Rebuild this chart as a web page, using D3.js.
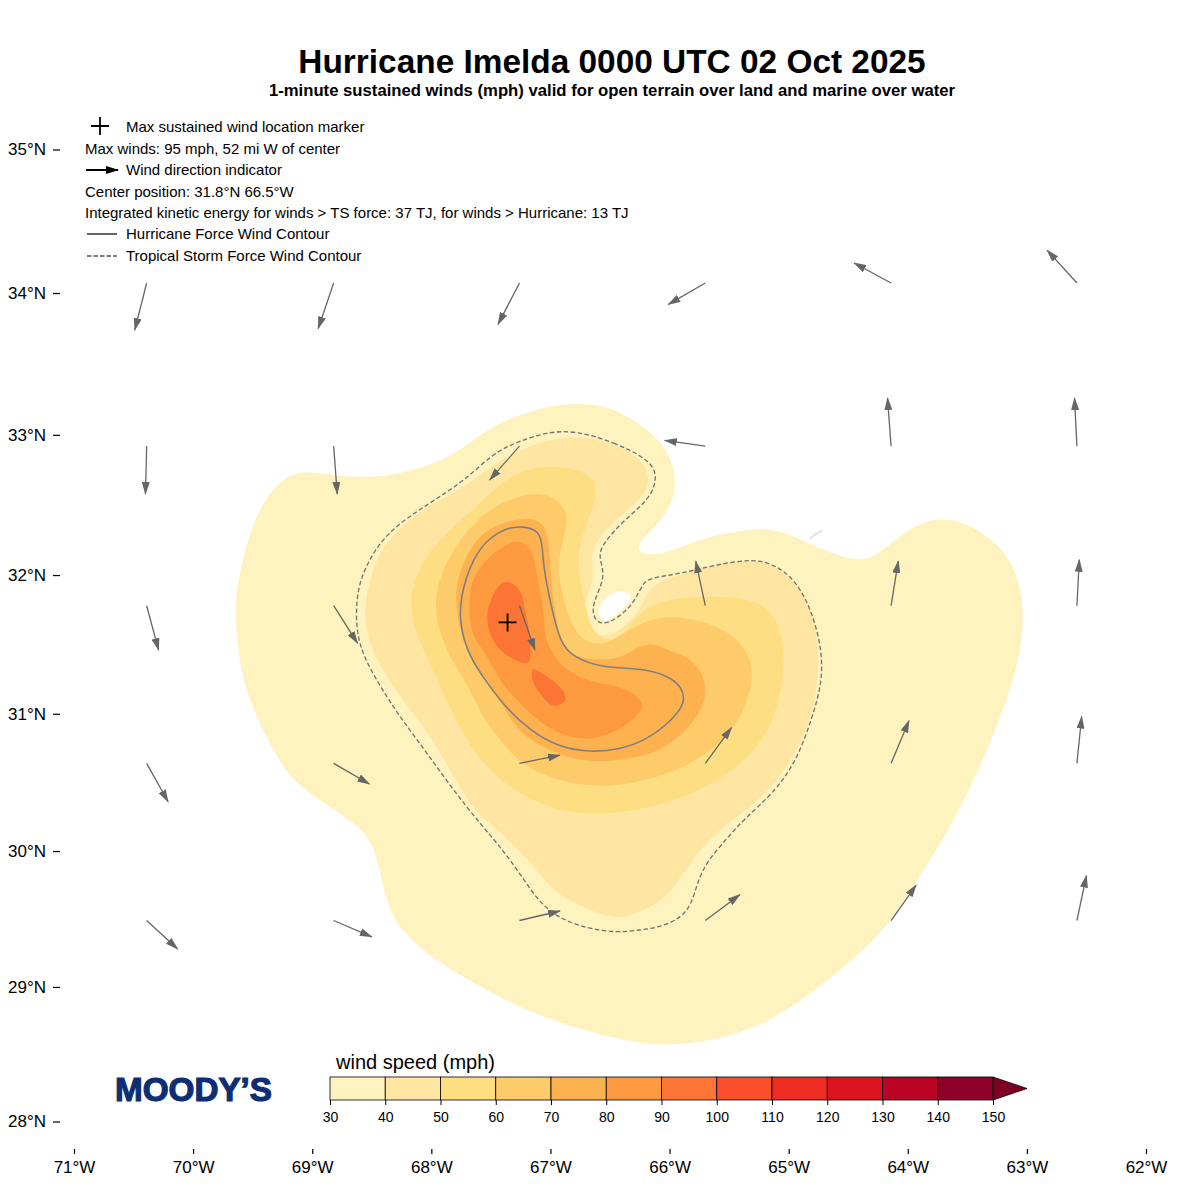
<!DOCTYPE html>
<html>
<head>
<meta charset="utf-8">
<script src="https://cdn.jsdelivr.net/npm/d3@7"></script>
<style>
  html, body { margin: 0; padding: 0; background: #fff; }
  text { font-family: "Liberation Sans", Arial, sans-serif; fill: #000; }
</style>
</head>
<body>
<svg id="chart" width="1200" height="1200"></svg>
<script>
const lonTicks = [-71, -70, -69, -68, -67, -66, -65, -64, -63, -62];
const latTicks = [28, 29, 30, 31, 32, 33, 34, 35];
const levels = [30, 40, 50, 60, 70, 80, 90, 100, 110, 120, 130, 140, 150];
const levelColors = ['#fef3be', '#fee6a2', '#fede82', '#fecb6a', '#feb14f', '#fd9a40', '#fc7535',
  '#fb4e2b', '#ee2c24', '#dc141f', '#bb0326', '#8f0028'];
const overColor = '#7f0027';

// contours, [lon, lat]
const ring30 = [[-69.09,32.75],[-68.79,32.71],[-68.49,32.69],[-68.07,32.76],[-67.78,32.87],[-67.51,33.06],[-67.09,33.20],[-66.73,33.23],[-66.47,33.19],[-66.25,33.08],[-66.05,32.94],[-65.95,32.75],[-65.95,32.56],[-66.08,32.37],[-66.25,32.25],[-66.27,32.18],[-66.19,32.14],[-66.02,32.16],[-65.83,32.23],[-65.55,32.30],[-65.24,32.34],[-65.03,32.31],[-64.80,32.21],[-64.43,32.09],[-64.26,32.14],[-64.06,32.29],[-63.87,32.38],[-63.70,32.41],[-63.50,32.37],[-63.28,32.25],[-63.12,32.09],[-63.03,31.84],[-63.03,31.55],[-63.12,31.22],[-63.25,30.91],[-63.45,30.50],[-63.69,30.10],[-63.92,29.79],[-64.17,29.44],[-64.46,29.20],[-64.80,28.96],[-65.13,28.76],[-65.49,28.63],[-65.89,28.57],[-66.25,28.57],[-66.81,28.70],[-67.23,28.83],[-67.65,29.03],[-67.99,29.21],[-68.24,29.40],[-68.35,29.57],[-68.41,29.76],[-68.47,30.01],[-68.57,30.15],[-68.77,30.28],[-69.14,30.48],[-69.31,30.70],[-69.51,31.05],[-69.61,31.34],[-69.65,31.70],[-69.63,31.94],[-69.55,32.23],[-69.44,32.49],[-69.27,32.68]];
const eyeHole = [[-66.60,31.73],[-66.56,31.81],[-66.44,31.88],[-66.33,31.86],[-66.35,31.80],[-66.43,31.73],[-66.53,31.67],[-66.58,31.69]];
const ring40 = [[-66.79,33.00],[-66.47,32.94],[-66.25,32.84],[-66.15,32.69],[-66.22,32.56],[-66.39,32.44],[-66.58,32.29],[-66.67,32.14],[-66.63,32.02],[-66.67,31.89],[-66.72,31.78],[-66.73,31.69],[-66.67,31.59],[-66.54,31.55],[-66.37,31.63],[-66.25,31.75],[-66.18,31.89],[-66.08,31.96],[-65.77,32.04],[-65.55,32.09],[-65.30,32.11],[-65.10,32.06],[-64.93,31.94],[-64.80,31.75],[-64.75,31.51],[-64.75,31.22],[-64.82,30.93],[-64.96,30.69],[-65.13,30.47],[-65.35,30.30],[-65.55,30.18],[-65.77,29.99],[-65.94,29.76],[-66.08,29.62],[-66.31,29.53],[-66.44,29.51],[-66.61,29.54],[-66.81,29.62],[-66.98,29.71],[-67.11,29.86],[-67.28,30.02],[-67.48,30.18],[-67.65,30.30],[-67.84,30.59],[-68.04,30.88],[-68.26,31.12],[-68.43,31.34],[-68.53,31.53],[-68.56,31.70],[-68.55,31.84],[-68.49,32.06],[-68.37,32.25],[-68.20,32.39],[-67.99,32.51],[-67.73,32.63],[-67.53,32.75],[-67.34,32.86],[-67.09,32.95]];
const ring50 = [[-66.98,32.79],[-66.69,32.74],[-66.60,32.62],[-66.64,32.48],[-66.78,32.19],[-66.75,31.96],[-66.69,31.70],[-66.62,31.56],[-66.48,31.52],[-66.36,31.60],[-66.22,31.77],[-65.94,31.84],[-65.55,31.85],[-65.27,31.82],[-65.10,31.70],[-65.03,31.46],[-65.05,31.22],[-65.13,30.93],[-65.32,30.69],[-65.58,30.52],[-65.97,30.35],[-66.53,30.26],[-66.81,30.28],[-67.09,30.34],[-67.36,30.47],[-67.57,30.64],[-67.74,30.86],[-67.89,31.12],[-68.01,31.37],[-68.12,31.55],[-68.18,31.77],[-68.16,31.91],[-68.07,32.11],[-67.93,32.25],[-67.76,32.39],[-67.53,32.56],[-67.31,32.74]];
const ring60 = [[-67.17,32.59],[-66.98,32.57],[-66.86,32.46],[-66.86,32.34],[-66.94,32.13],[-66.92,31.91],[-66.84,31.68],[-66.73,31.51],[-66.53,31.50],[-66.39,31.58],[-66.25,31.65],[-66.05,31.71],[-65.74,31.68],[-65.47,31.58],[-65.31,31.41],[-65.30,31.22],[-65.38,31.01],[-65.52,30.83],[-65.77,30.66],[-66.05,30.55],[-66.39,30.48],[-66.64,30.47],[-66.98,30.52],[-67.26,30.64],[-67.42,30.81],[-67.57,30.97],[-67.65,31.14],[-67.82,31.37],[-67.93,31.58],[-67.97,31.75],[-67.95,31.94],[-67.84,32.16],[-67.65,32.37],[-67.45,32.51]];
const ring70 = [[-67.17,32.42],[-67.06,32.37],[-67.01,32.25],[-67.00,31.96],[-66.94,31.60],[-66.86,31.44],[-66.69,31.39],[-66.44,31.39],[-66.31,31.46],[-66.16,31.52],[-66.02,31.46],[-65.83,31.41],[-65.70,31.27],[-65.69,31.10],[-65.80,30.93],[-66.02,30.76],[-66.22,30.69],[-66.50,30.65],[-66.78,30.66],[-67.03,30.74],[-67.26,30.86],[-67.36,31.01],[-67.51,31.19],[-67.65,31.37],[-67.76,31.58],[-67.80,31.82],[-67.78,31.99],[-67.65,32.25],[-67.45,32.37]];
const ring80 = [[-67.28,32.24],[-67.17,32.18],[-67.11,31.99],[-67.06,31.75],[-67.03,31.53],[-66.89,31.34],[-66.67,31.24],[-66.42,31.19],[-66.27,31.12],[-66.23,31.05],[-66.31,30.96],[-66.47,30.87],[-66.69,30.82],[-66.92,30.86],[-67.11,30.96],[-67.26,31.08],[-67.40,31.22],[-67.53,31.41],[-67.65,31.58],[-67.68,31.77],[-67.65,31.96],[-67.51,32.13],[-67.38,32.21]];
const ring90a = [[-67.36,31.95],[-67.26,31.89],[-67.21,31.73],[-67.17,31.53],[-67.19,31.37],[-67.34,31.41],[-67.48,31.53],[-67.53,31.70],[-67.49,31.84],[-67.42,31.93]];
const ring90b = [[-67.15,31.32],[-67.03,31.27],[-66.89,31.16],[-66.88,31.09],[-66.98,31.06],[-67.09,31.15],[-67.15,31.24]];
const hurricaneLine = [[-67.23,32.35],[-67.11,32.32],[-67.07,32.25],[-67.06,32.06],[-67.00,31.80],[-66.92,31.51],[-66.81,31.41],[-66.56,31.33],[-66.25,31.33],[-66.02,31.28],[-65.89,31.19],[-65.87,31.08],[-65.97,30.96],[-66.19,30.81],[-66.42,30.74],[-66.67,30.72],[-66.94,30.76],[-67.17,30.88],[-67.36,31.03],[-67.53,31.22],[-67.68,31.41],[-67.76,31.63],[-67.76,31.84],[-67.65,32.13],[-67.51,32.27],[-67.36,32.34]];
const tsLine = [[-66.79,33.03],[-66.47,32.95],[-66.16,32.82],[-66.10,32.70],[-66.16,32.55],[-66.36,32.41],[-66.56,32.23],[-66.60,32.13],[-66.53,31.99],[-66.65,31.80],[-66.64,31.68],[-66.54,31.63],[-66.31,31.77],[-66.23,31.94],[-66.16,31.98],[-65.91,32.01],[-65.63,32.07],[-65.30,32.12],[-65.10,32.07],[-64.93,31.95],[-64.80,31.73],[-64.72,31.46],[-64.72,31.22],[-64.80,30.98],[-64.93,30.66],[-65.13,30.42],[-65.38,30.23],[-65.52,30.09],[-65.68,29.93],[-65.76,29.79],[-65.81,29.62],[-65.90,29.51],[-66.08,29.44],[-66.25,29.42],[-66.44,29.40],[-66.69,29.43],[-66.94,29.51],[-67.11,29.64],[-67.26,29.84],[-67.42,30.03],[-67.59,30.20],[-67.82,30.45],[-68.04,30.72],[-68.25,30.96],[-68.41,31.17],[-68.57,31.41],[-68.63,31.60],[-68.63,31.80],[-68.60,31.96],[-68.51,32.13],[-68.37,32.30],[-68.15,32.44],[-67.93,32.56],[-67.70,32.69],[-67.48,32.87],[-67.28,32.95],[-67.03,33.02]];
const bermuda = [[-64.82,32.26],[-64.78,32.29],[-64.72,32.32]];
const maxWindPoint = [-67.36, 31.66];

// wind arrows, grid of tails and offsets in degrees, row by row
const windLons = [-70.39, -68.82, -67.26, -65.70, -64.14, -62.58];
const windLats = [34.07, 32.92, 31.78, 30.64, 29.49];
const windU = [
  [-0.10, -0.13, -0.18, -0.31, -0.31, -0.25],
  [-0.01, 0.03, -0.25, -0.34, -0.03, -0.02],
  [0.10, 0.20, 0.13, -0.08, 0.06, 0.02],
  [0.18, 0.30, 0.34, 0.22, 0.15, 0.04],
  [0.26, 0.32, 0.34, 0.29, 0.21, 0.08]
];
const windV = [
  [-0.33, -0.32, -0.29, -0.15, 0.14, 0.23],
  [-0.34, -0.34, -0.24, 0.04, 0.34, 0.34],
  [-0.32, -0.27, -0.32, 0.32, 0.32, 0.33],
  [-0.28, -0.15, 0.06, 0.26, 0.31, 0.34],
  [-0.21, -0.12, 0.07, 0.19, 0.26, 0.33]
];

const legendLines = [
  'Max sustained wind location marker',
  'Max winds: 95 mph, 52 mi W of center',
  'Wind direction indicator',
  'Center position: 31.8°N 66.5°W',
  'Integrated kinetic energy for winds > TS force: 37 TJ, for winds > Hurricane: 13 TJ',
  'Hurricane Force Wind Contour',
  'Tropical Storm Force Wind Contour'
];

const draw = () => {
  const svg = d3.select('#chart');
  const arrowGrey = '#666';

  const merc = lat => Math.log(Math.tan(Math.PI / 4 + lat * Math.PI / 360));
  const xScale = d3.scaleLinear().domain([-71, -62]).range([74, 1146]);
  const yMerc = d3.scaleLinear().domain([merc(28), merc(35)]).range([1121.5, 149.5]);
  const yScale = lat => yMerc(merc(lat));

  const ringPath = d3.line()
    .x(d => xScale(d[0]))
    .y(d => yScale(d[1]))
    .curve(d3.curveBasisClosed);
  // small rings would shrink too much with a basis curve
  const smallRingPath = d3.line()
    .x(d => xScale(d[0]))
    .y(d => yScale(d[1]))
    .curve(d3.curveCatmullRomClosed.alpha(0.5));

  const defs = svg.append('defs');
  const addHead = (id, color) => {
    defs.append('marker')
      .attr('id', id)
      .attr('markerUnits', 'userSpaceOnUse')
      .attr('viewBox', '0 0 13 8')
      .attr('markerWidth', 13)
      .attr('markerHeight', 8)
      .attr('refX', 12)
      .attr('refY', 4)
      .attr('orient', 'auto')
      .append('path')
      .attr('d', 'M0,0 L13,4 L0,8 Z')
      .attr('fill', color);
  };
  addHead('head', arrowGrey);
  addHead('legend-head', '#000');

  svg.selectAll('.land')
    .data([bermuda])
    .enter().append('path')
    .attr('class', 'land')
    .attr('d', d3.line().x(d => xScale(d[0])).y(d => yScale(d[1])))
    .attr('fill', 'none')
    .attr('stroke', '#e6e6ec')
    .attr('stroke-width', 2.5);

  // filled wind bands, lowest first
  const bands = [
    { d: ringPath(ring30) + ' ' + smallRingPath(eyeHole), color: levelColors[0] },
    { d: ringPath(ring40), color: levelColors[1] },
    { d: ringPath(ring50), color: levelColors[2] },
    { d: ringPath(ring60), color: levelColors[3] },
    { d: ringPath(ring70), color: levelColors[4] },
    { d: smallRingPath(ring80), color: levelColors[5] },
    { d: smallRingPath(ring90a) + ' ' + smallRingPath(ring90b), color: levelColors[6] }
  ];

  svg.selectAll('.band')
    .data(bands)
    .enter().append('path')
    .attr('class', 'band')
    .attr('d', d => d.d)
    .attr('fill', d => d.color)
    .attr('fill-rule', 'evenodd');

  svg.append('path')
    .attr('d', ringPath(tsLine))
    .attr('fill', 'none')
    .attr('stroke', '#707070')
    .attr('stroke-width', 1.3)
    .attr('stroke-dasharray', '4.5,2.5');

  svg.append('path')
    .attr('d', ringPath(hurricaneLine))
    .attr('fill', 'none')
    .attr('stroke', '#7f7f7f')
    .attr('stroke-width', 1.6);

  const crossAt = (cx, cy) => {
    svg.append('path')
      .attr('d', `M${cx - 9},${cy} H${cx + 9} M${cx},${cy - 9} V${cy + 9}`)
      .attr('stroke', '#000')
      .attr('stroke-width', 1.8)
      .attr('fill', 'none');
  };
  crossAt(xScale(maxWindPoint[0]), yScale(maxWindPoint[1]));

  const arrows = [];
  windLats.forEach((lat, i) => {
    windLons.forEach((lon, j) => {
      arrows.push({ lon, lat, u: windU[i][j], v: windV[i][j] });
    });
  });

  svg.selectAll('.wind')
    .data(arrows)
    .enter().append('line')
    .attr('class', 'wind')
    .attr('x1', d => xScale(d.lon))
    .attr('y1', d => yScale(d.lat))
    .attr('x2', d => xScale(d.lon + d.u))
    .attr('y2', d => yScale(d.lat + d.v))
    .attr('stroke', arrowGrey)
    .attr('stroke-width', 1.3)
    .attr('marker-end', 'url(#head)');

  // titles
  svg.append('text')
    .attr('x', 612).attr('y', 72.5)
    .attr('text-anchor', 'middle')
    .attr('font-size', 33.4)
    .attr('font-weight', 'bold')
    .text('Hurricane Imelda 0000 UTC 02 Oct 2025');

  svg.append('text')
    .attr('x', 612).attr('y', 96)
    .attr('text-anchor', 'middle')
    .attr('font-size', 16.7)
    .attr('font-weight', 'bold')
    .text('1-minute sustained winds (mph) valid for open terrain over land and marine over water');

  // legend
  const legendX = [126, 85, 126, 85, 85, 126, 126];
  const legendY = [132, 154, 175, 197, 218, 239, 261];
  svg.selectAll('.legend-text')
    .data(legendLines)
    .enter().append('text')
    .attr('class', 'legend-text')
    .attr('x', (d, i) => legendX[i])
    .attr('y', (d, i) => legendY[i])
    .attr('font-size', 15)
    .text(d => d);

  crossAt(100, 126);

  svg.append('line')
    .attr('x1', 86).attr('x2', 118).attr('y1', 170).attr('y2', 170)
    .attr('stroke', '#000').attr('stroke-width', 2)
    .attr('marker-end', 'url(#legend-head)');
  svg.append('line')
    .attr('x1', 87).attr('x2', 117).attr('y1', 234).attr('y2', 234)
    .attr('stroke', '#000').attr('stroke-width', 1.2);
  svg.append('line')
    .attr('x1', 87).attr('x2', 117).attr('y1', 256).attr('y2', 256)
    .attr('stroke', '#000').attr('stroke-width', 1.2)
    .attr('stroke-dasharray', '4.5,2');

  // axes
  const xAxis = d3.axisBottom(xScale)
    .tickValues(lonTicks)
    .tickSize(5)
    .tickPadding(7)
    .tickFormat(d => `${Math.abs(d)}°W`);
  const xG = svg.append('g').attr('transform', 'translate(0,1149)').call(xAxis);

  const yAxis = d3.axisLeft(yMerc)
    .tickValues(latTicks.map(merc))
    .tickSize(7)
    .tickPadding(7)
    .tickFormat(d => `${Math.round(2 * Math.atan(Math.exp(d)) * 180 / Math.PI - 90)}°N`);
  const yG = svg.append('g').attr('transform', 'translate(60,0)').call(yAxis);

  [xG, yG].forEach(g => {
    g.select('.domain').remove();
    g.selectAll('.tick line').attr('stroke', '#000').attr('stroke-width', 1.2);
    g.selectAll('.tick text')
      .attr('font-size', 17)
      .style('font-family', '"Liberation Sans", Arial, sans-serif');
  });

  // colour bar
  const barTop = 1077, barBottom = 1100;
  const barScale = d3.scaleLinear().domain([30, 150]).range([330, 993]);

  svg.selectAll('.bin')
    .data(levelColors)
    .enter().append('rect')
    .attr('class', 'bin')
    .attr('x', (d, i) => barScale(levels[i]))
    .attr('y', barTop)
    .attr('width', (d, i) => barScale(levels[i + 1]) - barScale(levels[i]))
    .attr('height', barBottom - barTop)
    .attr('fill', d => d)
    .attr('stroke', '#000')
    .attr('stroke-width', 0.8);

  const tipX = barScale(150) + 34;
  svg.append('path')
    .attr('d', `M${barScale(150)},${barTop} L${tipX},${(barTop + barBottom) / 2} L${barScale(150)},${barBottom} Z`)
    .attr('fill', overColor)
    .attr('stroke', '#000')
    .attr('stroke-width', 0.8);

  const barAxis = d3.axisBottom(barScale)
    .tickValues(levels)
    .tickSize(5)
    .tickPadding(7)
    .tickFormat(d3.format('d'));
  const barG = svg.append('g').attr('transform', `translate(0,${barBottom})`).call(barAxis);
  barG.select('.domain').remove();
  barG.selectAll('.tick line').attr('stroke', '#000').attr('stroke-width', 1);
  barG.selectAll('.tick text')
    .attr('font-size', 14)
    .style('font-family', '"Liberation Sans", Arial, sans-serif');

  svg.append('text')
    .attr('x', 336).attr('y', 1068.5)
    .attr('font-size', 20)
    .text('wind speed (mph)');

  svg.append('text')
    .attr('x', 115).attr('y', 1101)
    .attr('font-size', 33)
    .attr('font-weight', 'bold')
    .attr('textLength', 157)
    .attr('lengthAdjust', 'spacingAndGlyphs')
    .style('fill', '#0d2e73')
    .attr('stroke', '#0d2e73')
    .attr('stroke-width', 1.2)
    .text('MOODY’S');
};

draw();
</script>
</body>
</html>
